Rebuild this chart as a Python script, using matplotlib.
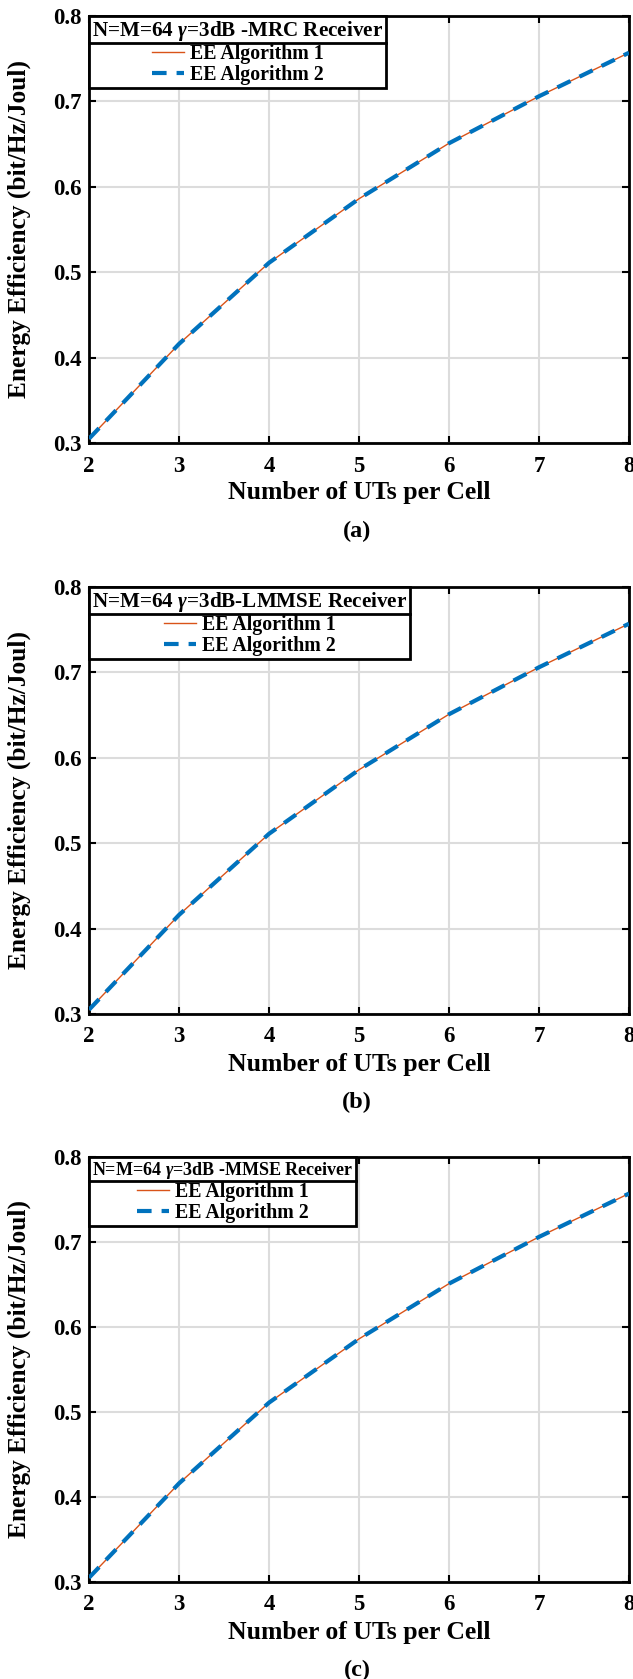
import matplotlib
matplotlib.use("Agg")
import matplotlib.pyplot as plt
from matplotlib.lines import Line2D

# Data
users = [2, 3, 4, 5, 6, 7, 8]
ee_alg1 = [0.305, 0.416, 0.511, 0.586, 0.651, 0.706, 0.757]
ee_alg2 = [0.305, 0.416, 0.511, 0.586, 0.651, 0.706, 0.757]
titles = ["N=M=64 $\\gamma$=3dB -MRC Receiver",
          "N=M=64 $\\gamma$=3dB-LMMSE Receiver",
          "N=M=64 $\\gamma$=3dB -MMSE Receiver"]
panel_labels = ["(a)", "(b)", "(c)"]
xticks = [2, 3, 4, 5, 6, 7, 8]
yticks = [0.3, 0.4, 0.5, 0.6, 0.7, 0.8]

plt.rcParams['font.family'] = ['Liberation Serif', 'DejaVu Serif']
plt.rcParams['font.weight'] = 'bold'
plt.rcParams['mathtext.fontset'] = 'custom'
plt.rcParams['mathtext.it'] = 'Liberation Serif:italic:bold'
plt.rcParams['mathtext.rm'] = 'Liberation Serif:bold'

W, H = 633, 1679
fig = plt.figure(figsize=(W / 100, H / 100), dpi=100)

# axes boxes in pixels: (left, right, top, bottom)
boxes = [(89, 629, 16, 443), (89, 629, 587, 1014), (89, 629, 1157, 1582)]
title_fs = [15.2, 15.2, 13.0]

for i, (l, r, t, b) in enumerate(boxes):
    ax = fig.add_axes([l / W, 1 - b / H, (r - l) / W, (b - t) / H])
    ax.plot(users, ee_alg1, color='#D95319', lw=1.0, label='EE Algorithm 1', zorder=3)
    ax.plot(users, ee_alg2, color='#0072BD', lw=3.0, ls=(0, (3.5, 2.4)), label='EE Algorithm 2', zorder=4)
    ax.set_xlim(2, 8)
    ax.set_ylim(0.3, 0.8)
    ax.set_xticks(xticks)
    ax.set_yticks(yticks)
    ax.set_xticklabels([str(v) for v in xticks])
    ax.set_yticklabels([f"{v:.1f}" for v in yticks])
    ax.grid(True, color='#DCDCDC', lw=1.5)
    ax.set_axisbelow(True)
    ax.tick_params(direction='in', length=5, width=1.5, top=True, right=True,
                   labelsize=16.5)
    ax.tick_params(axis='x', pad=9)
    ax.tick_params(axis='y', pad=5)
    for lab in ax.get_xticklabels() + ax.get_yticklabels():
        lab.set_fontweight('bold')
    for sp in ax.spines.values():
        sp.set_linewidth(2.0)
    ax.set_ylabel("Energy Efficiency (bit/Hz/Joul)", fontsize=18.3, fontweight='bold',
                  va='center')
    ax.yaxis.set_label_coords((19 - l) / (r - l), 0.5)
    fig.text((l + r) / 2 / W, 1 - (b + 50) / H, "Number of UTs per Cell",
             ha='center', va='center', fontsize=18.5, fontweight='bold')
    fig.text((l + r) / 2 / W - 0.003, 1 - (b + 88) / H, panel_labels[i],
             ha='center', va='center', fontsize=17.5, fontweight='bold')
    leg = ax.legend(loc='upper left', title=titles[i], fontsize=14.3,
                    title_fontproperties={'size': title_fs[i], 'weight': 'bold'},
                    fancybox=False, edgecolor='black', framealpha=1,
                    borderaxespad=0.0, handlelength=1.6, borderpad=0.15,
                    labelspacing=0.05, handletextpad=0.3)
    leg.get_frame().set_linewidth(2.0)
    for txt in leg.get_texts():
        txt.set_fontweight('bold')
    ax._leg = leg

fig.canvas.draw()
# separator line between the legend title and its entries
inv = fig.transFigure.inverted()
for ax in fig.axes:
    leg = ax._leg
    fb = leg.get_frame().get_window_extent()
    tb = leg.get_title().get_window_extent()
    eb = leg.get_texts()[0].get_window_extent()
    ysep = (tb.y0 + eb.y1) / 2
    (x0, y0) = inv.transform((fb.x0, ysep))
    (x1, _) = inv.transform((fb.x1, ysep))
    fig.add_artist(Line2D([x0, x1], [y0, y0], color='black', lw=2.0,
                          transform=fig.transFigure, zorder=10))

fig.savefig("out.png", dpi=100)
